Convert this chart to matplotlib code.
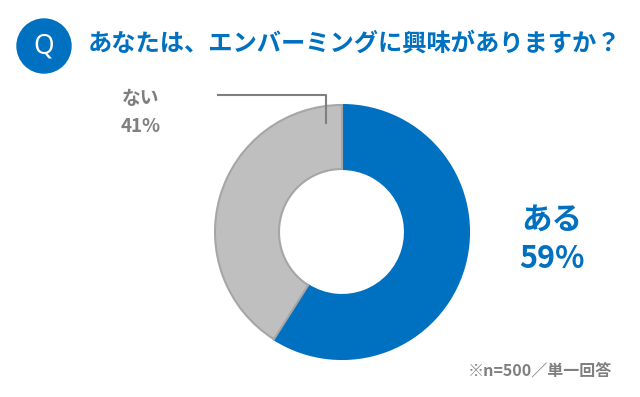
import matplotlib.pyplot as plt
from matplotlib.patches import Circle

plt.rcParams['font.family'] = ['Noto Sans CJK JP', 'DejaVu Sans']

labels = ['ある', 'ない']
values = [59, 41]
colors = ['#0070c0', '#bfbfbf']
title = 'あなたは、エンバーミングに興味がありますか？'
note = '※n=500／単一回答'

W, H = 640, 397
fig = plt.figure(figsize=(W / 100, H / 100), dpi=100)
ax = fig.add_axes([0, 0, 1, 1])
ax.set_xlim(0, W)
ax.set_ylim(0, H)
ax.set_aspect('equal')
ax.axis('off')

def y(py):
    return H - py

# donut
wedges, _ = ax.pie(values, colors=colors, startangle=90, counterclock=False,
                   center=(342, y(232)), radius=127,
                   wedgeprops=dict(width=64, linewidth=1.5))
wedges[0].set_edgecolor('#0070c0')
wedges[1].set_edgecolor('#a6a6a6')
ax.set_xlim(0, W)
ax.set_ylim(0, H)

# header
ax.add_patch(Circle((44, y(46)), 27, color='#0070c0'))
ax.text(44, y(46), 'Q', color='white', fontsize=19, ha='center', va='center',
        family=['Noto Sans'], fontweight='light')
ax.text(88, y(44), title, color='#0070c0', fontsize=17.5, fontweight='bold',
        ha='left', va='center')

# labels
ax.text(552, y(220), labels[0], color='#0070c0', fontsize=22, fontweight='bold',
        ha='center', va='center')
ax.text(552, y(259), f'{values[0]}%', color='#0070c0', fontsize=22,
        fontweight='bold', ha='center', va='center')
ax.text(141, y(98), labels[1], color='#7f7f7f', fontsize=13.5, fontweight='bold',
        ha='center', va='center')
ax.text(141, y(126), f'{values[1]}%', color='#7f7f7f', fontsize=13.5,
        fontweight='bold', ha='center', va='center')

# leader line
ax.plot([218, 326, 326], [y(95), y(95), y(123)], color='#7f7f7f', lw=1.5)

ax.text(612, y(371), note, color='#7f7f7f', fontsize=11.5, fontweight='bold',
        ha='right', va='center')

fig.savefig('out.png', dpi=100)
